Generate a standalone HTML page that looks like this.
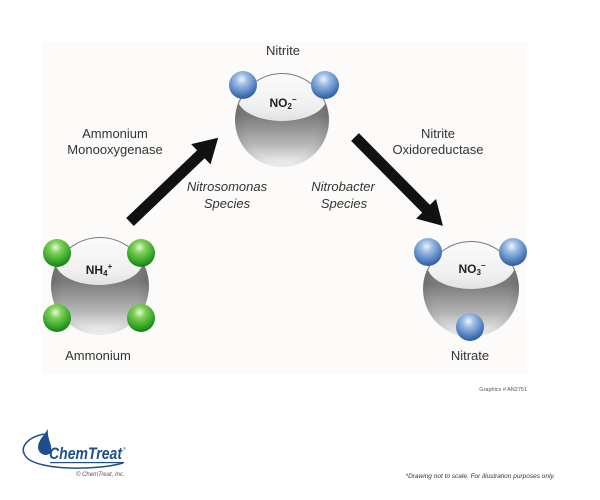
<!DOCTYPE html>
<html>
<head>
<meta charset="utf-8">
<style>
  html,body{margin:0;padding:0;background:#fff;}
  body{width:600px;height:500px;overflow:hidden;}
  svg{display:block;}
  text{font-family:"Liberation Sans",sans-serif;}
</style>
</head>
<body>
<svg width="600" height="500" viewBox="0 0 600 500" xmlns="http://www.w3.org/2000/svg">
  <defs>
    <linearGradient id="sph" x1="0" y1="0" x2="0" y2="1">
      <stop offset="0" stop-color="#8a8a8a"/>
      <stop offset="0.45" stop-color="#7a7a7a"/>
      <stop offset="0.75" stop-color="#b4b4b4"/>
      <stop offset="0.93" stop-color="#e6e6e6"/>
      <stop offset="1" stop-color="#f6f6f6"/>
    </linearGradient>
    <radialGradient id="sphEdge" cx="0.5" cy="0.55" r="0.55">
      <stop offset="0.7" stop-color="#000" stop-opacity="0"/>
      <stop offset="1" stop-color="#000" stop-opacity="0.12"/>
    </radialGradient>
    <linearGradient id="cap" x1="0" y1="0" x2="0" y2="1">
      <stop offset="0" stop-color="#fbfbfb"/>
      <stop offset="0.7" stop-color="#f0f0f0"/>
      <stop offset="1" stop-color="#e2e2e2"/>
    </linearGradient>
    <radialGradient id="blue" cx="0.45" cy="0.3" r="0.7">
      <stop offset="0" stop-color="#eef4fb"/>
      <stop offset="0.3" stop-color="#9dbce3"/>
      <stop offset="0.75" stop-color="#4f7fbf"/>
      <stop offset="1" stop-color="#2f5a98"/>
    </radialGradient>
    <radialGradient id="green" cx="0.45" cy="0.3" r="0.7">
      <stop offset="0" stop-color="#e6f8d8"/>
      <stop offset="0.3" stop-color="#7fd05a"/>
      <stop offset="0.75" stop-color="#34a526"/>
      <stop offset="1" stop-color="#1d7a18"/>
    </radialGradient>
    <clipPath id="c1"><circle cx="282" cy="120" r="46"/></clipPath>
    <clipPath id="c2"><circle cx="100" cy="286" r="48"/></clipPath>
    <clipPath id="c3"><circle cx="471" cy="289" r="47"/></clipPath>
  </defs>

  <!-- panel -->
  <rect x="42" y="42" width="485" height="332" fill="#fcfbf9"/>

  <!-- Nitrite molecule -->
  <circle cx="282" cy="120" r="47" fill="url(#sph)"/>
  <circle cx="282" cy="120" r="47" fill="url(#sphEdge)"/>
  <ellipse cx="282" cy="97" rx="45" ry="24" fill="url(#cap)" clip-path="url(#c1)"/>
  <circle cx="243" cy="85" r="14" fill="url(#blue)"/>
  <circle cx="325" cy="85" r="14" fill="url(#blue)"/>
  <text x="283" y="107" font-size="12" font-weight="bold" fill="#222" text-anchor="middle">NO<tspan font-size="8" dy="2">2</tspan><tspan font-size="8" dy="-7">−</tspan></text>
  <text x="283" y="55" font-size="13" fill="#333" text-anchor="middle">Nitrite</text>

  <!-- Ammonium molecule -->
  <circle cx="100" cy="286" r="49" fill="url(#sph)"/>
  <circle cx="100" cy="286" r="49" fill="url(#sphEdge)"/>
  <ellipse cx="99" cy="261" rx="44" ry="24" fill="url(#cap)" clip-path="url(#c2)"/>
  <circle cx="57" cy="253" r="14" fill="url(#green)"/>
  <circle cx="141" cy="253" r="14" fill="url(#green)"/>
  <circle cx="57" cy="318" r="14" fill="url(#green)"/>
  <circle cx="141" cy="318" r="14" fill="url(#green)"/>
  <text x="99" y="274" font-size="12" font-weight="bold" fill="#222" text-anchor="middle">NH<tspan font-size="8" dy="2">4</tspan><tspan font-size="8" dy="-7">+</tspan></text>
  <text x="98" y="360" font-size="13" fill="#333" text-anchor="middle">Ammonium</text>

  <!-- Nitrate molecule -->
  <circle cx="471" cy="289" r="48" fill="url(#sph)"/>
  <circle cx="471" cy="289" r="48" fill="url(#sphEdge)"/>
  <ellipse cx="471" cy="265" rx="44" ry="24" fill="url(#cap)" clip-path="url(#c3)"/>
  <circle cx="428" cy="252" r="14" fill="url(#blue)"/>
  <circle cx="513" cy="252" r="14" fill="url(#blue)"/>
  <circle cx="470" cy="327" r="14" fill="url(#blue)"/>
  <text x="472" y="273" font-size="12" font-weight="bold" fill="#222" text-anchor="middle">NO<tspan font-size="8" dy="2">3</tspan><tspan font-size="8" dy="-7">−</tspan></text>
  <text x="470" y="360" font-size="13" fill="#333" text-anchor="middle">Nitrate</text>

  <!-- Arrows -->
  <g transform="translate(130,222) rotate(-43.7)">
    <polygon points="0,-5.5 98,-5.5 98,-14 122,0 98,14 98,5.5 0,5.5" fill="#111"/>
  </g>
  <g transform="translate(355,137) rotate(45.3)">
    <polygon points="0,-5.5 101,-5.5 101,-14 125,0 101,14 101,5.5 0,5.5" fill="#111"/>
  </g>

  <!-- Labels -->
  <text x="115" y="138" font-size="13" fill="#333" text-anchor="middle">Ammonium</text>
  <text x="115" y="154" font-size="13" fill="#333" text-anchor="middle">Monooxygenase</text>
  <text x="227" y="191" font-size="13" font-style="italic" fill="#333" text-anchor="middle">Nitrosomonas</text>
  <text x="227" y="208" font-size="13" font-style="italic" fill="#333" text-anchor="middle">Species</text>
  <text x="438" y="138" font-size="13" fill="#333" text-anchor="middle">Nitrite</text>
  <text x="438" y="154" font-size="13" fill="#333" text-anchor="middle">Oxidoreductase</text>
  <text x="343" y="191" font-size="13" font-style="italic" fill="#333" text-anchor="middle">Nitrobacter</text>
  <text x="344" y="208" font-size="13" font-style="italic" fill="#333" text-anchor="middle">Species</text>

  <text x="527" y="391" font-size="5.5" fill="#555" text-anchor="end">Graphics # AN2751</text>

  <!-- Logo -->
  <path d="M 123,463 C 95,471 40,470 27,458 C 17,447 29,437 44,434" fill="none" stroke="#1f4e8c" stroke-width="1.5"/>
  <path d="M 48,429 C 44,435 38,441 38,447 C 38,452 42,455 46,455 C 50,455 52,451 51,446 C 50,441 47,436 48,429 Z" fill="#1f4e8c"/>
  <text x="49" y="459" font-size="16.5" font-weight="bold" font-style="italic" fill="#1f4e8c" textLength="73" lengthAdjust="spacingAndGlyphs">ChemTreat</text>
  <text x="123" y="450" font-size="4" fill="#1f4e8c">®</text>
  <rect x="50" y="462" width="74" height="1.2" fill="#1f4e8c"/>
  <text x="76" y="476" font-size="6" font-style="italic" fill="#555">© ChemTreat, Inc.</text>

  <text x="555" y="478" font-size="6.5" font-style="italic" fill="#333" text-anchor="end">*Drawing not to scale. For illustration purposes only.</text>
</svg>
</body>
</html>
